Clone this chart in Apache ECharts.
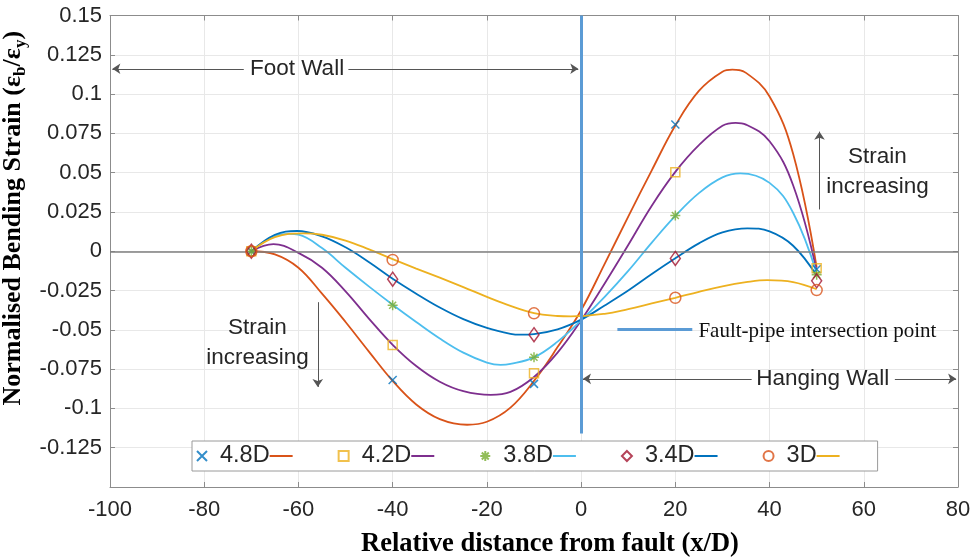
<!DOCTYPE html>
<html>
<head>
<meta charset="utf-8">
<script src="https://cdn.jsdelivr.net/npm/echarts@6/dist/echarts.min.js"></script>
<style>
  html, body { margin: 0; padding: 0; background: #fff; }
  #chart { width: 976px; height: 559px; }
</style>
</head>
<body>
<div id="chart"></div>
<script>
// legend names, marker positions and values
const names = ['4.8D', '4.2D', '3.8D', '3.4D', '3D'];
const markX = [-70, -40, -10, 20, 50];
const mark48 = [0, -0.0819, -0.0844, 0.0806, -0.0114];
const mark42 = [0, -0.0596, -0.0776, 0.0503, -0.0108];
const mark38 = [0, -0.0343, -0.0675, 0.0228, -0.0150];
const mark34 = [0, -0.0178, -0.0531, -0.0046, -0.0188];
const mark30 = [0, -0.0055, -0.0395, -0.0296, -0.0247];

// fitted curves: [x/D, strain], every 5 x/D plus each turning point
const fit48 = [[-70, 0], [-65, -0.002], [-60, -0.0105], [-55, -0.027], [-50, -0.045], [-45, -0.064], [-40, -0.0825], [-35, -0.0975], [-30, -0.1068], [-24.2, -0.1104], [-20, -0.1085], [-15, -0.0995], [-10, -0.0825], [-5, -0.061], [0, -0.0375], [5, -0.008], [10, 0.022], [15, 0.0515], [20, 0.080], [25, 0.102], [30, 0.1142], [32.1, 0.1155], [35, 0.1135], [40, 0.0985], [45, 0.062], [50, -0.0103]];
const fit42 = [[-70, 0], [-65.3, 0.0045], [-60, -0.001], [-55, -0.0105], [-50, -0.0255], [-45, -0.043], [-40, -0.0595], [-35, -0.073], [-30, -0.083], [-25, -0.089], [-19.2, -0.0914], [-15, -0.0895], [-10, -0.080], [-5, -0.0645], [0, -0.044], [5, -0.0205], [10, 0.004], [15, 0.029], [20, 0.0505], [25, 0.0675], [30, 0.0798], [32.8, 0.0817], [35, 0.0806], [40, 0.070], [45, 0.042], [50, -0.0125]];
const fit38 = [[-70, 0], [-65, 0.0097], [-62, 0.011], [-60, 0.0105], [-55, 0.002], [-50, -0.0105], [-45, -0.0225], [-40, -0.034], [-35, -0.045], [-30, -0.0555], [-25, -0.0645], [-20, -0.0708], [-17.1, -0.0723], [-15, -0.0717], [-10, -0.0675], [-5, -0.0575], [0, -0.044], [5, -0.029], [10, -0.0125], [15, 0.0055], [20, 0.0225], [25, 0.037], [30, 0.047], [33.8, 0.0495], [40, 0.0435], [45, 0.0245], [50, -0.014]];
const fit34 = [[-70, 0], [-65, 0.0105], [-60.3, 0.0129], [-55, 0.0095], [-50, 0.0025], [-45, -0.007], [-40, -0.0175], [-35, -0.027], [-30, -0.0358], [-25, -0.0432], [-20, -0.0488], [-15, -0.0525], [-12.9, -0.0531], [-10, -0.0527], [-5, -0.0497], [0, -0.0435], [5, -0.0345], [10, -0.025], [15, -0.0145], [20, -0.0045], [25, 0.005], [30, 0.012], [35.3, 0.0146], [40, 0.0126], [45, 0.0035], [50, -0.0155]];
const fit30 = [[-70, 0], [-65, 0.009], [-59, 0.0114], [-55, 0.0105], [-50, 0.0068], [-45, 0.0012], [-40, -0.005], [-35, -0.011], [-30, -0.0168], [-25, -0.0228], [-20, -0.029], [-15, -0.0347], [-10, -0.0393], [-5, -0.0412], [-2.2, -0.0415], [5, -0.0398], [10, -0.0368], [15, -0.0332], [20, -0.0296], [25, -0.0258], [30, -0.0223], [35, -0.0197], [39.5, -0.0184], [45, -0.0196], [50, -0.0242]];

const marks = [mark48, mark42, mark38, mark34, mark30];
const fits = [fit48, fit42, fit38, fit34, fit30];

const markColors = ['#0072BD', '#EDB120', '#77AC30', '#A2142F', '#D95319'];
const lineColors = ['#D95319', '#7E2F8E', '#4DBEEE', '#0072BD', '#EDB120'];
const symbols = [
  'path://M0,0L10,10M10,0L0,10',
  'rect',
  'path://M5,0L5,10M0,5L10,5M1.5,1.5L8.5,8.5M8.5,1.5L1.5,8.5',
  'diamond',
  'circle'
];
const symbolSizes = [8, 9, 10, [10, 14], 11];

const chart = echarts.init(document.getElementById('chart'));

const txt = '#262626';
const axisGray = '#8c8c8c';
const faultBlue = '#5B9BD5';

const series = [];

// zero line + annotation arrows and texts
series.push({
  type: 'scatter',
  data: [],
  silent: true,
  markLine: {
    silent: true,
    animation: false,
    symbol: ['none', 'none'],
    label: { show: false },
    lineStyle: { color: '#555', width: 1, type: 'solid' },
    data: [
      { yAxis: 0, lineStyle: { color: '#7f7f7f', width: 1.5 } },
      [{ coord: [-99.5, 0.1161], symbol: 'arrow', symbolSize: 8 }, { coord: [-71.6, 0.1161], symbol: 'none' }],
      [{ coord: [-49.4, 0.1161], symbol: 'none' }, { coord: [-0.6, 0.1161], symbol: 'arrow', symbolSize: 8 }],
      [{ coord: [0.4, -0.0812], symbol: 'arrow', symbolSize: 8 }, { coord: [36.2, -0.0812], symbol: 'none' }],
      [{ coord: [66.6, -0.0812], symbol: 'none' }, { coord: [79.6, -0.0812], symbol: 'arrow', symbolSize: 8 }],
      [{ coord: [50.6, 0.0266], symbol: 'none' }, { coord: [50.6, 0.0761], symbol: 'arrow', symbolSize: 8 }],
      [{ coord: [-55.9, -0.0324], symbol: 'none' }, { coord: [-55.9, -0.0863], symbol: 'arrow', symbolSize: 8 }]
    ]
  },
  markPoint: {
    silent: true,
    animation: false,
    symbol: 'circle',
    symbolSize: 1,
    itemStyle: { color: 'rgba(0,0,0,0)' },
    label: {
      show: true, position: 'inside', color: txt,
      fontFamily: 'Liberation Sans', fontSize: 22.5, lineHeight: 30, align: 'center'
    },
    data: [
      { coord: [-60.3, 0.1161], label: { formatter: 'Foot Wall' } },
      { coord: [51.3, -0.0812], label: { formatter: 'Hanging Wall' } },
      { coord: [62.9, 0.0508], label: { formatter: 'Strain\nincreasing' } },
      { coord: [-68.7, -0.058], label: { formatter: 'Strain\nincreasing' } },
      { coord: [24.9, -0.0508], label: { formatter: 'Fault-pipe intersection point', align: 'left',
        fontFamily: 'Liberation Serif', fontSize: 21, color: '#111' } }
    ]
  }
});

for (let i = 0; i < names.length; i++) {
  series.push({
    name: names[i] + ' fit',
    type: 'line',
    data: fits[i],
    smooth: 0.4,
    showSymbol: false,
    silent: true,
    animation: false,
    lineStyle: { color: lineColors[i], width: 1.8 },
    itemStyle: { color: lineColors[i] },
    z: 3
  });
}

for (let i = 0; i < names.length; i++) {
  series.push({
    name: names[i],
    type: 'scatter',
    data: markX.map((x, j) => [x, marks[i][j]]),
    symbol: symbols[i],
    symbolSize: symbolSizes[i],
    silent: true,
    animation: false,
    itemStyle: { color: 'rgba(0,0,0,0)', borderColor: markColors[i], borderWidth: 1.5 },
    z: 5
  });
}

// fault line and the pointer to it
series.push({
  type: 'scatter',
  data: [],
  silent: true,
  z: 6,
  markLine: {
    silent: true,
    animation: false,
    symbol: ['none', 'none'],
    label: { show: false },
    lineStyle: { color: faultBlue, width: 3, type: 'solid' },
    data: [
      [{ coord: [0, 0.15] }, { coord: [0, -0.116] }],
      [{ coord: [7.7, -0.0495] }, { coord: [23.6, -0.0495] }]
    ]
  }
});

const richLegend = { s: { width: 8 } };
lineColors.forEach((c, i) => {
  richLegend['l' + i] = { width: 23, height: 2, backgroundColor: c, verticalAlign: 'middle' };
});

chart.setOption({
  animation: false,
  backgroundColor: '#fff',
  grid: { left: 110, right: 18, top: 15.5, bottom: 72, containLabel: false, outerBoundsMode: 'none' },
  legend: {
    data: names,
    selectedMode: false,
    orient: 'horizontal',
    left: 192,
    top: 441,
    itemWidth: 10,
    itemHeight: 10,
    itemGap: 45,
    padding: [3, 38, 3, 4],
    backgroundColor: '#fff',
    borderColor: '#9a9a9a',
    borderWidth: 1,
    textStyle: { fontFamily: 'Liberation Sans', fontSize: 23.5, color: txt, rich: richLegend },
    formatter: function (name) {
      return '{s| }' + name + '{l' + names.indexOf(name) + '| }';
    }
  },
  xAxis: [{
    type: 'value',
    min: -100, max: 80, interval: 20,
    name: 'Relative distance from fault (x/D)',
    nameLocation: 'middle',
    nameGap: 44,
    nameTextStyle: {
      fontFamily: 'Liberation Serif', fontWeight: 'bold', fontSize: 26.5, color: '#000',
      padding: [0, 0, 0, 32]
    },
    axisLine: { show: true, onZero: false, lineStyle: { color: axisGray, width: 1 } },
    axisTick: { show: true, inside: true, length: 5, lineStyle: { color: axisGray } },
    axisLabel: { fontFamily: 'Liberation Sans', fontSize: 22, color: txt, margin: 12 },
    splitLine: { show: true, lineStyle: { color: '#e8e8e8', width: 1 } }
  }, {
    type: 'value',
    position: 'top',
    min: -100, max: 80, interval: 20,
    axisLine: { show: true, onZero: false, lineStyle: { color: axisGray, width: 1 } },
    axisTick: { show: true, inside: true, length: 5, lineStyle: { color: axisGray } },
    axisLabel: { show: false },
    splitLine: { show: false }
  }],
  yAxis: [{
    type: 'value',
    min: -0.15, max: 0.15, interval: 0.025,
    name: '{a|Normalised Bending Strain (ε}{b|b}{a|/ε}{b|y}{a|)}',
    nameLocation: 'middle',
    nameGap: 80,
    nameTextStyle: {
      fontFamily: 'Liberation Serif', fontWeight: 'bold', fontSize: 26, color: '#000',
      padding: [0, 0, 0, 66],
      rich: {
        a: { fontFamily: 'Liberation Serif', fontWeight: 'bold', fontSize: 26, color: '#000', lineHeight: 30 },
        b: { fontFamily: 'Liberation Serif', fontWeight: 'bold', fontSize: 17, color: '#000', lineHeight: 17, verticalAlign: 'bottom' }
      }
    },
    axisLine: { show: true, onZero: false, lineStyle: { color: axisGray, width: 1 } },
    axisTick: { show: true, inside: true, length: 5, lineStyle: { color: axisGray } },
    axisLabel: { fontFamily: 'Liberation Sans', fontSize: 22, color: txt, margin: 8, showMinLabel: false },
    splitLine: { show: true, lineStyle: { color: '#e8e8e8', width: 1 } }
  }, {
    type: 'value',
    position: 'right',
    min: -0.15, max: 0.15, interval: 0.025,
    axisLine: { show: true, onZero: false, lineStyle: { color: axisGray, width: 1 } },
    axisTick: { show: true, inside: true, length: 5, lineStyle: { color: axisGray } },
    axisLabel: { show: false },
    splitLine: { show: false }
  }],
  series: series
});
</script>
</body>
</html>
